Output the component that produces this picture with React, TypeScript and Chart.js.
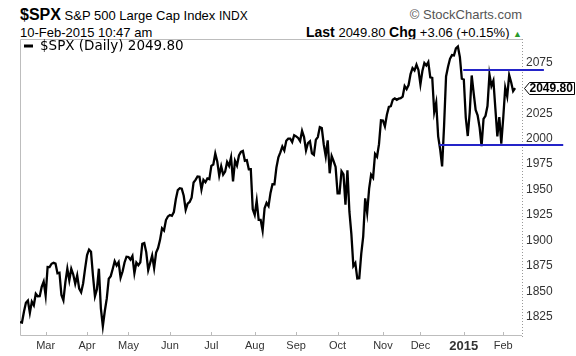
import { useEffect, useRef } from "react";
import { Chart, registerables } from "chart.js";

Chart.register(...registerables);

// Daily closes of $SPX, one small array per month (Feb 11 2014 .. Feb 10 2015)
const feb2014 = [1819.75, 1819.26, 1829.83, 1838.63, 1840.76, 1828.75, 1839.78, 1836.25, 1847.61, 1845.12, 1845.16, 1854.29, 1859.45];
const mar2014 = [1845.73, 1873.91, 1873.81, 1877.03, 1878.04, 1877.17, 1867.63, 1868.2, 1846.34, 1841.13, 1858.83, 1872.25, 1860.77, 1872.01, 1866.52, 1857.44, 1865.62, 1852.56, 1849.04, 1857.62, 1872.34];
const apr2014 = [1885.52, 1890.9, 1888.77, 1865.09, 1845.04, 1851.96, 1872.18, 1833.08, 1815.69, 1830.61, 1842.98, 1862.31, 1864.85, 1871.89, 1879.55, 1875.39, 1878.61, 1863.4, 1869.43, 1878.33, 1883.95];
const may2014 = [1883.68, 1881.14, 1884.66, 1867.72, 1878.21, 1875.63, 1878.48, 1896.65, 1897.45, 1888.53, 1870.85, 1877.86, 1885.08, 1872.83, 1888.03, 1892.49, 1900.53, 1911.91, 1909.78, 1920.03, 1923.57];
const jun2014 = [1924.97, 1924.24, 1927.88, 1940.46, 1949.44, 1951.27, 1950.79, 1943.89, 1930.11, 1936.16, 1937.78, 1941.99, 1956.98, 1959.48, 1962.87, 1962.61, 1949.98, 1959.53, 1957.22, 1960.96, 1960.23];
const jul2014 = [1973.32, 1974.62, 1985.44, 1977.65, 1963.71, 1972.83, 1964.68, 1967.57, 1977.1, 1973.28, 1981.57, 1958.12, 1978.22, 1973.63, 1983.53, 1987.01, 1987.98, 1978.34, 1978.91, 1969.95, 1970.07, 1930.67];
const aug2014 = [1925.15, 1938.99, 1920.21, 1920.24, 1909.57, 1931.59, 1936.92, 1933.75, 1946.72, 1955.18, 1955.06, 1971.74, 1981.6, 1986.51, 1992.37, 1988.4, 1997.92, 2000.02, 2000.12, 1996.74, 2003.37];
const sep2014 = [2002.28, 2000.72, 1997.65, 2007.71, 2001.54, 1988.44, 1995.69, 1997.45, 1985.54, 1984.13, 1998.98, 2001.57, 2011.36, 2010.4, 1994.29, 1982.77, 1998.3, 1965.99, 1982.85, 1977.8, 1972.29];
const oct2014 = [1946.16, 1946.17, 1967.9, 1964.82, 1935.1, 1968.89, 1928.21, 1906.13, 1874.74, 1877.7, 1862.49, 1862.76, 1886.76, 1904.01, 1941.28, 1927.11, 1950.82, 1964.58, 1961.63, 1985.05, 1982.3, 1994.65, 2018.05];
const nov2014 = [2017.81, 2012.1, 2023.57, 2031.21, 2031.92, 2038.26, 2039.68, 2038.25, 2039.33, 2039.82, 2041.32, 2051.8, 2048.72, 2052.75, 2063.5, 2069.41, 2067.03, 2072.83, 2067.56];
const dec2014 = [2053.44, 2066.55, 2074.33, 2071.92, 2075.37, 2060.31, 2059.82, 2026.14, 2035.33, 2002.33, 1989.63, 1972.74, 2012.89, 2061.23, 2070.65, 2078.54, 2082.17, 2081.88, 2088.77, 2090.57, 2080.35, 2058.9];
const jan2015 = [2058.2, 2020.58, 2002.61, 2025.9, 2062.14, 2044.81, 2028.26, 2023.03, 2011.27, 1992.67, 2019.42, 2022.55, 2032.12, 2063.15, 2051.82, 2057.09, 2029.55, 2002.16, 2021.25, 1994.99];
const feb2015 = [2020.85, 2050.03, 2041.51, 2062.52, 2055.47, 2046.74, 2049.8];

const monthSeries = [feb2014, mar2014, apr2014, may2014, jun2014, jul2014, aug2014, sep2014, oct2014, nov2014, dec2014, jan2015, feb2015];
const monthLabels = ["Mar", "Apr", "May", "Jun", "Jul", "Aug", "Sep", "Oct", "Nov", "Dec", "2015", "Feb"];
const yTicks = [1825, 1850, 1875, 1900, 1925, 1950, 1975, 2000, 2025, 2075];

// Horizontal support / resistance lines: [value, startIndex, endIndex]
const resistance = [2067.5, 224.7, 265.6];
const support = [1993.8, 212.6, 275.4];

const lastValue = 2049.8;

export default function App() {
  const canvasRef = useRef<HTMLCanvasElement | null>(null);

  useEffect(() => {
    const closes: number[] = ([] as number[]).concat(...monthSeries);
    const points = closes.map((v, i) => ({ x: i, y: v }));
    const monthTickIdx: number[] = [];
    let acc = 0;
    for (let m = 0; m < monthSeries.length - 1; m++) {
      acc += monthSeries[m].length;
      monthTickIdx.push(acc);
    }
    const labelAt: Record<number, string> = {};
    monthTickIdx.forEach((idx, k) => (labelAt[idx] = monthLabels[k]));

    const framePlugin = {
      id: "frame",
      beforeDatasetsDraw(chart: any) {
        const { ctx, chartArea: a } = chart;
        ctx.save();
        ctx.strokeStyle = "#bdbdbd";
        ctx.lineWidth = 1;
        ctx.beginPath();
        ctx.moveTo(a.right, a.top + 0.5);
        ctx.lineTo(a.left + 0.5, a.top + 0.5);
        ctx.lineTo(a.left + 0.5, a.bottom + 0.5);
        ctx.lineTo(a.right, a.bottom + 0.5);
        ctx.stroke();
        ctx.setLineDash([1, 2]);
        ctx.strokeStyle = "#999";
        ctx.beginPath();
        ctx.moveTo(a.right + 0.5, a.top);
        ctx.lineTo(a.right + 0.5, a.bottom + 4);
        ctx.stroke();
        ctx.setLineDash([]);
        ctx.strokeStyle = "#bbb";
        const xs = chart.scales.x;
        monthTickIdx.forEach((idx) => {
          const px = Math.round(xs.getPixelForValue(idx)) + 0.5;
          ctx.beginPath();
          ctx.moveTo(px, a.bottom);
          ctx.lineTo(px, a.bottom - 3);
          ctx.stroke();
        });
        ctx.restore();
      },
      afterDraw(chart: any) {
        const { ctx, chartArea: a } = chart;
        ctx.save();
        // legend
        ctx.strokeStyle = "#000";
        ctx.lineWidth = 3;
        ctx.beginPath();
        ctx.moveTo(a.left + 4, a.top + 7);
        ctx.lineTo(a.left + 13, a.top + 7);
        ctx.stroke();
        ctx.fillStyle = "#000";
        ctx.font = '13.5px "DejaVu Sans"';
        ctx.textBaseline = "middle";
        ctx.textAlign = "left";
        ctx.fillText("$SPX (Daily) 2049.80", a.left + 20, a.top + 7);
        // price label
        const y = Math.round(chart.scales.y.getPixelForValue(lastValue)) + 0.5;
        const x0 = a.right + 2.5;
        ctx.lineWidth = 1;
        ctx.beginPath();
        ctx.moveTo(x0, y);
        ctx.lineTo(x0 + 5, y - 6);
        ctx.lineTo(574.5, y - 6);
        ctx.lineTo(574.5, y + 6);
        ctx.lineTo(x0 + 5, y + 6);
        ctx.closePath();
        ctx.fillStyle = "#fff";
        ctx.fill();
        ctx.strokeStyle = "#000";
        ctx.stroke();
        ctx.fillStyle = "#000";
        ctx.font = 'bold 12px "Liberation Sans"';
        ctx.fillText("2049.80", x0 + 5, y + 0.5);
        ctx.restore();
      },
    };

    const chart = new Chart(canvasRef.current as HTMLCanvasElement, {
      type: "line",
      data: {
        datasets: [
          {
            data: [
              { x: resistance[1], y: resistance[0] },
              { x: resistance[2], y: resistance[0] },
            ],
            borderColor: "#2424c8",
            borderWidth: 2,
            pointRadius: 0,
            clip: false,
          } as any,
          {
            data: [
              { x: support[1], y: support[0] },
              { x: support[2], y: support[0] },
            ],
            borderColor: "#2424c8",
            borderWidth: 2,
            pointRadius: 0,
            clip: false,
          } as any,
          {
            data: points,
            borderColor: "#000",
            borderWidth: 2.3,
            pointRadius: 0,
            tension: 0,
          },
        ],
      },
      options: {
        animation: false,
        responsive: true,
        maintainAspectRatio: false,
        layout: { padding: { left: 20, top: 39, right: 0, bottom: 0 } },
        plugins: { legend: { display: false }, tooltip: { enabled: false } },
        scales: {
          x: {
            type: "linear",
            min: 0,
            max: 254.5,
            grid: { display: false, drawTicks: false },
            border: { display: false },
            afterBuildTicks: (s: any) => {
              s.ticks = monthTickIdx.map((v) => ({ value: v }));
            },
            afterFit: (s: any) => {
              s.height = 21;
            },
            ticks: {
              autoSkip: false,
              maxRotation: 0,
              padding: 4,
              color: "#333",
              callback: (v: any) => labelAt[v as number] ?? "",
              font: (c: any) =>
                c.tick && c.tick.label === "2015"
                  ? { family: "Liberation Sans", size: 13, weight: "bold" }
                  : { family: "Liberation Sans", size: 11 },
            },
          },
          y: {
            position: "right",
            min: 1807,
            max: 2098,
            grid: { display: false, drawTicks: false },
            border: { display: false },
            afterBuildTicks: (s: any) => {
              s.ticks = yTicks.map((v) => ({ value: v }));
            },
            afterFit: (s: any) => {
              s.width = 54;
            },
            ticks: {
              padding: 4,
              color: "#333",
              font: { family: "Liberation Sans", size: 12 },
              callback: (v: any) => String(v),
            },
          },
        },
      },
      plugins: [framePlugin],
    });
    return () => chart.destroy();
  }, []);

  const sans = '"Liberation Sans", Arial, sans-serif';
  return (
    <div style={{ position: "absolute", left: 0, top: 0, width: 576, height: 356, background: "#fff", overflow: "hidden" }}>
      <div style={{ position: "absolute", left: 20, top: 7, whiteSpace: "nowrap", fontFamily: sans, lineHeight: "16px", color: "#000" }}>
        <span style={{ fontWeight: "bold", fontSize: 16 }}>$SPX</span>
        <span style={{ fontSize: 13 }}> S&amp;P 500 Large Cap Index </span>
        <span style={{ fontSize: 12 }}>INDX</span>
      </div>
      <div style={{ position: "absolute", right: 54, top: 7, whiteSpace: "nowrap", fontFamily: sans, fontSize: 13, lineHeight: "16px", color: "#555" }}>
        © StockCharts.com
      </div>
      <div style={{ position: "absolute", left: 20, top: 26, whiteSpace: "nowrap", fontFamily: sans, fontSize: 13, lineHeight: "13px", color: "#000" }}>
        10-Feb-2015 10:47 am
      </div>
      <div style={{ position: "absolute", right: 54, top: 25, whiteSpace: "nowrap", fontFamily: sans, fontSize: 13, lineHeight: "14px", color: "#000" }}>
        <span style={{ fontWeight: "bold", fontSize: 14 }}>Last</span>
        <span> 2049.80 </span>
        <span style={{ fontWeight: "bold", fontSize: 14 }}>Chg</span>
        <span> +3.06 (+0.15%) </span>
        <span style={{ color: "#2a9a2a", fontSize: 9 }}>▲</span>
      </div>
      <div style={{ position: "absolute", left: 0, top: 0, width: 576, height: 356 }}>
        <canvas ref={canvasRef} />
      </div>
    </div>
  );
}
